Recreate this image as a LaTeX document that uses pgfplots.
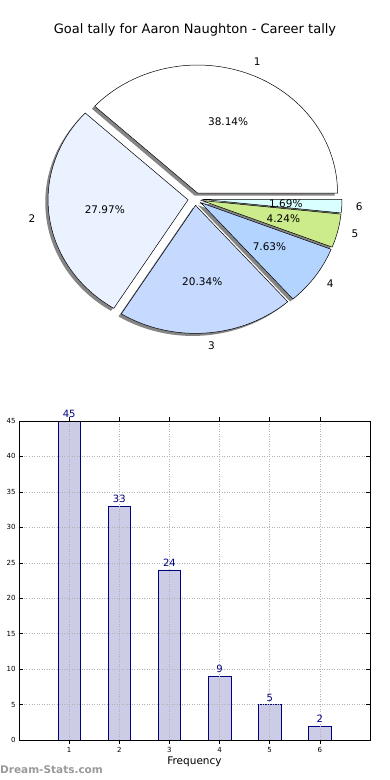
\documentclass[border=0pt]{standalone}
\usepackage{pgfplots}
\pgfplotsset{compat=1.18}
\usepackage{fontspec}
\setmainfont{DejaVu Sans}
\definecolor{navy}{HTML}{000080}
\definecolor{barfill}{HTML}{CCCCE6}
\definecolor{sA}{HTML}{FFFFFF}
\definecolor{sB}{HTML}{EBF2FF}
\definecolor{sC}{HTML}{C6D9FF}
\definecolor{sD}{HTML}{B3D4FF}
\definecolor{sE}{HTML}{CCEB8A}
\definecolor{sF}{HTML}{D9FFFF}
\definecolor{wm}{HTML}{999999}
% #1 = cumulative count before slice, #2 = count of slice
\newcommand\pieshadow[2]{%
  \pgfmathsetmacro\aa{(#1)/118*360}%
  \pgfmathsetmacro\ab{(#1+#2)/118*360}%
  \pgfmathsetmacro\ma{(\aa+\ab)/2}%
  \pgfmathsetmacro\ox{0.05*cos(\ma)-0.02}%
  \pgfmathsetmacro\oy{0.05*sin(\ma)-0.02}%
  \edef\temp{\noexpand\addplot[draw=none, fill=black!48, domain=\aa:\ab, samples=90, variable=\noexpand\t]
     ({\ox+cos(\noexpand\t)},{\oy+sin(\noexpand\t)}) -- (axis cs:\ox,\oy) -- cycle;}%
  \temp}
\newcommand\pieslice[5]{%
  \pgfmathsetmacro\aa{(#1)/118*360}%
  \pgfmathsetmacro\ab{(#1+#2)/118*360}%
  \pgfmathsetmacro\ma{(\aa+\ab)/2}%
  \pgfmathsetmacro\ox{0.05*cos(\ma)}%
  \pgfmathsetmacro\oy{0.05*sin(\ma)}%
  \pgfmathsetmacro\lx{\ox+1.1*cos(\ma)}%
  \pgfmathsetmacro\ly{\oy+1.1*sin(\ma)}%
  \pgfmathsetmacro\px{\ox+0.6*cos(\ma)}%
  \pgfmathsetmacro\py{\oy+0.6*sin(\ma)}%
  \pgfmathtruncatemacro\side{cos(\ma)>0}%
  \ifnum\side=1 \def\anc{west}\else\def\anc{east}\fi
  \edef\temp{\noexpand\addplot[draw=black, line width=0.5pt, fill=#3, domain=\aa:\ab, samples=90, variable=\noexpand\t]
     ({\ox+cos(\noexpand\t)},{\oy+sin(\noexpand\t)}) -- (axis cs:\ox,\oy) -- cycle;
     \noexpand\node[anchor=\anc, inner sep=0pt, font=\noexpand\fontsize{10.5}{12}\noexpand\selectfont] at (axis cs:\lx,\ly) {#4};
     \noexpand\node[anchor=center, inner sep=0pt, font=\noexpand\fontsize{10.5}{12}\noexpand\selectfont] at (axis cs:\px,\py) {#5};}%
  \temp}
\begin{document}
\begin{tikzpicture}
\path[use as bounding box] (0pt,0pt) rectangle (390pt,780pt);
\node[font=\fontsize{13}{15}\selectfont] at (195pt,750pt) {Goal tally for Aaron Naughton - Career tally};
\begin{axis}[at={(195pt,581pt)}, anchor=center, scale only axis, width=280pt, height=256pt,
  xmin=-1, xmax=1, ymin=-1, ymax=1, hide axis, clip=false]
\pieshadow{0}{45}
\pieshadow{45}{33}
\pieshadow{78}{24}
\pieshadow{102}{9}
\pieshadow{111}{5}
\pieshadow{116}{2}
\pieslice{0}{45}{sA}{1}{38.14\%}
\pieslice{45}{33}{sB}{2}{27.97\%}
\pieslice{78}{24}{sC}{3}{20.34\%}
\pieslice{102}{9}{sD}{4}{7.63\%}
\pieslice{111}{5}{sE}{5}{4.24\%}
\pieslice{116}{2}{sF}{6}{1.69\%}
\end{axis}
\begin{axis}[at={(19pt,40pt)}, anchor=south west, scale only axis, width=351pt, height=319pt,
  xmin=0, xmax=7, ymin=0, ymax=45, xtick={1,2,3,4,5,6}, ytick={0,5,...,45},
  grid=major, grid style={gray!60, line width=0.5pt, dash pattern=on 1pt off 1.5pt},
  tick align=inside, tick pos=both, major tick length=4pt, tick style={black, line width=0.5pt},
  ticklabel style={font=\fontsize{7}{8}\selectfont},
  /pgf/number format/assume math mode=true,
  xlabel={Frequency}, xlabel style={font=\fontsize{10.5}{12}\selectfont, inner sep=0pt, yshift=0pt},
  axis on top, axis line style={black, line width=0.8pt}, clip=false,
  ybar, bar width=0.45,
  nodes near coords, nodes near coords style={font=\fontsize{10}{11}\selectfont, text=navy, inner sep=0pt, yshift=3pt}]
\addplot[fill=barfill, draw=navy, line width=0.6pt] coordinates {(1,45) (2,33) (3,24) (4,9) (5,5) (6,2)};
\end{axis}
\node[anchor=west, inner sep=0pt, font=\fontsize{10.5}{12}\selectfont\bfseries, text=wm] at (0pt,10pt) {Dream-Stats.com};
\end{tikzpicture}
\end{document}
